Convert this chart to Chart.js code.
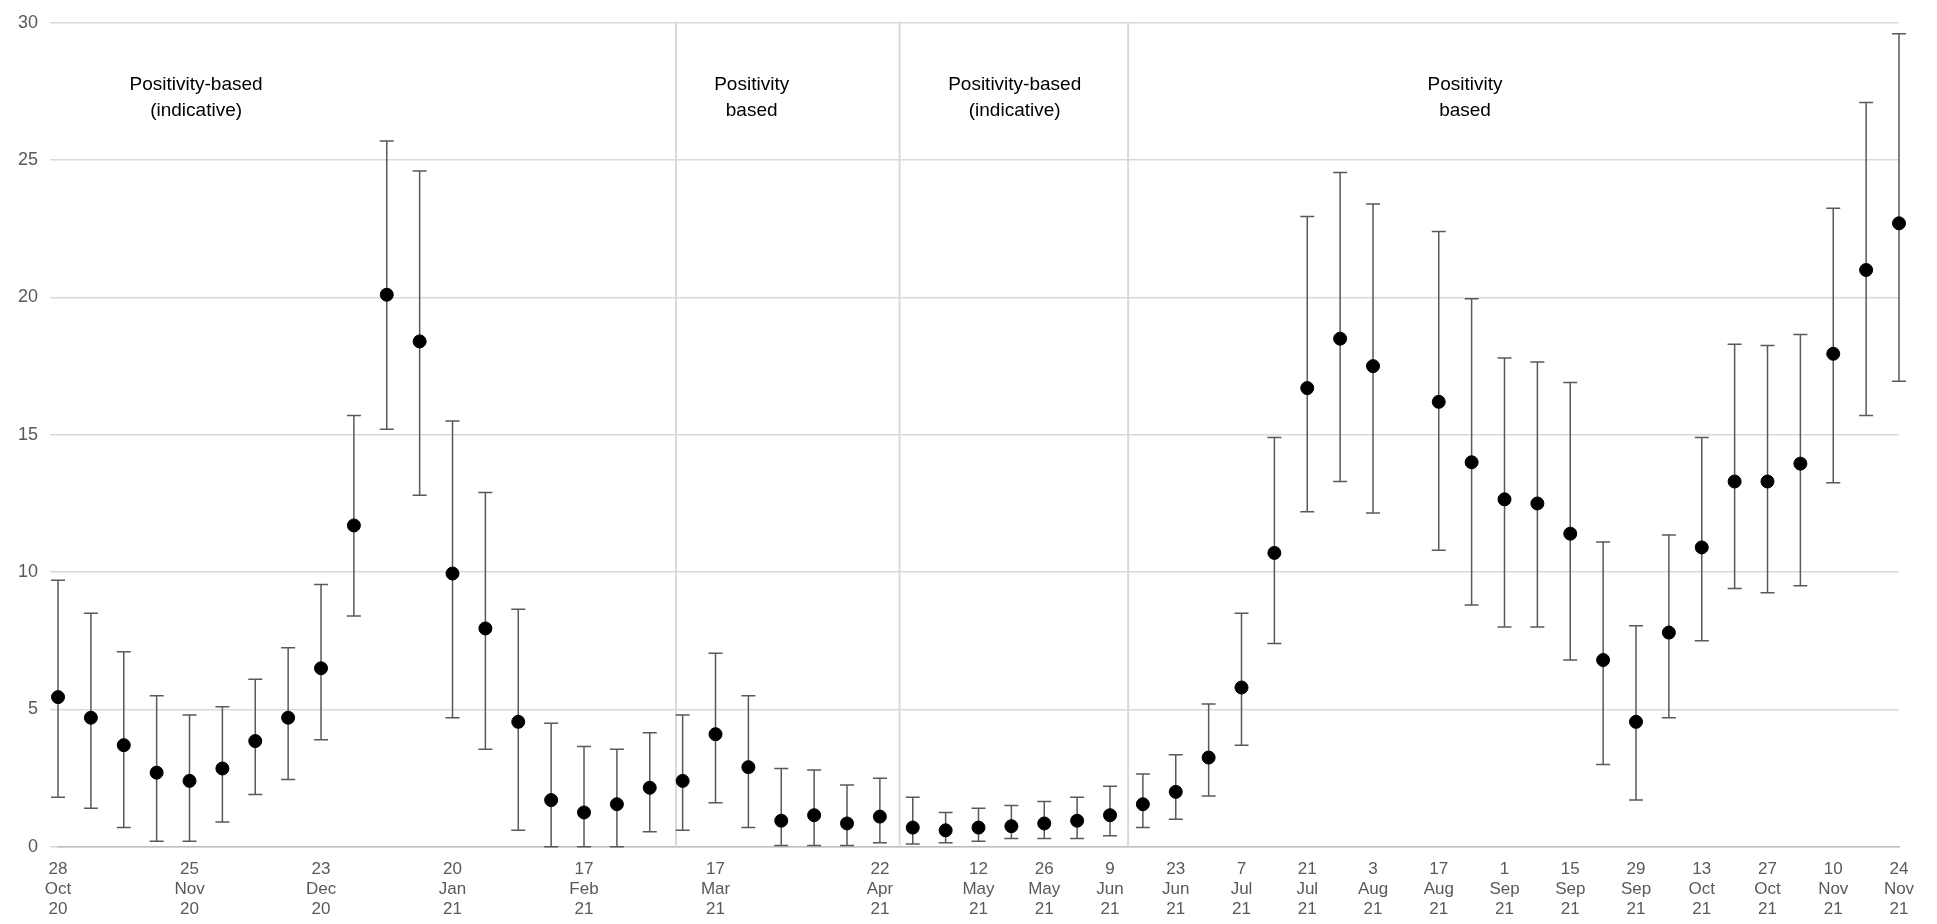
<!DOCTYPE html>
<html>
<head>
<meta charset="utf-8">
<script src="https://cdn.jsdelivr.net/npm/chart.js@4/dist/chart.umd.min.js"></script>
<style>
  html, body { margin: 0; padding: 0; background: #fff; }
  #wrap { width: 1937px; height: 924px; }
</style>
</head>
<body>
<div id="wrap"><canvas id="chart"></canvas></div>
<script>
// tick labels (empty = no label), one per weekly estimate
const tickLabels = [
  '28 Oct 20','','','','25 Nov 20','','','','23 Dec 20','','','','20 Jan 21','','','','17 Feb 21','','','',
  '17 Mar 21','','','','','22 Apr 21','','','12 May 21','','26 May 21','','9 Jun 21','','23 Jun 21','',
  '7 Jul 21','','21 Jul 21','','3 Aug 21','','17 Aug 21','','1 Sep 21','','15 Sep 21','','29 Sep 21','',
  '13 Oct 21','','27 Oct 21','','10 Nov 21','','24 Nov 21'
];
const estimate = [
  5.45,4.7,3.7,2.7,2.4,2.85,3.85,4.7,6.5,11.7,20.1,18.4,9.95,7.95,4.55,1.7,1.25,1.55,2.15,2.4,
  4.1,2.9,0.95,1.15,0.85,1.1,0.7,0.6,0.7,0.75,0.85,0.95,1.15,1.55,2.0,3.25,5.8,10.7,16.7,18.5,
  17.5,null,16.2,14.0,12.65,12.5,11.4,6.8,4.55,7.8,10.9,13.3,13.3,13.95,17.95,21.0,22.7
];
const lower = [
  1.8,1.4,0.7,0.2,0.2,0.9,1.9,2.45,3.9,8.4,15.2,12.8,4.7,3.55,0.6,0,0,0,0.55,0.6,
  1.6,0.7,0.05,0.05,0.05,0.15,0.1,0.15,0.2,0.3,0.3,0.3,0.4,0.7,1.0,1.85,3.7,7.4,12.2,13.3,
  12.15,null,10.8,8.8,8.0,8.0,6.8,3.0,1.7,4.7,7.5,9.4,9.25,9.5,13.25,15.7,16.95
];
const upper = [
  9.7,8.5,7.1,5.5,4.8,5.1,6.1,7.25,9.55,15.7,25.7,24.6,15.5,12.9,8.65,4.5,3.65,3.55,4.15,4.8,
  7.05,5.5,2.85,2.8,2.25,2.5,1.8,1.25,1.4,1.5,1.65,1.8,2.2,2.65,3.35,5.2,8.5,14.9,22.95,24.55,
  23.4,null,22.4,19.95,17.8,17.65,16.9,11.1,8.05,11.35,14.9,18.3,18.25,18.65,23.25,27.1,29.6
];
// method periods: divider positions (in category units) and captions
const dividers = [18.8, 25.6, 32.55];
const periodText = [
  { x: 4.2, lines: ['Positivity-based', '(indicative)'] },
  { x: 21.1, lines: ['Positivity', 'based'] },
  { x: 29.1, lines: ['Positivity-based', '(indicative)'] },
  { x: 42.8, lines: ['Positivity', 'based'] }
];

const errorBars = {
  id: 'errorBars',
  beforeDatasetsDraw(chart) {
    const { ctx, scales: { x, y }, chartArea } = chart;
    ctx.save();
    // period dividers
    ctx.strokeStyle = '#d9d9d9';
    ctx.lineWidth = 2;
    dividers.forEach(d => {
      const px = x.getPixelForValue(d);
      ctx.beginPath();
      ctx.moveTo(px, chartArea.top);
      ctx.lineTo(px, chartArea.bottom);
      ctx.stroke();
    });
    // whiskers
    ctx.strokeStyle = '#595959';
    ctx.lineWidth = 1.5;
    estimate.forEach((v, i) => {
      if (v === null) return;
      const px = x.getPixelForValue(i);
      const lo = y.getPixelForValue(lower[i]);
      const hi = y.getPixelForValue(upper[i]);
      ctx.beginPath();
      ctx.moveTo(px, lo); ctx.lineTo(px, hi);
      ctx.moveTo(px - 7, lo); ctx.lineTo(px + 7, lo);
      ctx.moveTo(px - 7, hi); ctx.lineTo(px + 7, hi);
      ctx.stroke();
    });
    // captions
    ctx.fillStyle = '#000';
    ctx.font = '19px "Liberation Sans", Arial, sans-serif';
    ctx.textAlign = 'center';
    ctx.textBaseline = 'middle';
    periodText.forEach(t => {
      const px = x.getPixelForValue(t.x);
      t.lines.forEach((l, k) => ctx.fillText(l, px, y.getPixelForValue(27.75) + k * 26));
    });
    ctx.restore();
  }
};

new Chart(document.getElementById('chart'), {
  type: 'line',
  data: {
    labels: tickLabels,
    datasets: [{
      data: estimate,
      showLine: false,
      pointRadius: 6.5,
      pointBackgroundColor: '#000',
      pointBorderColor: '#000'
    }]
  },
  options: {
    responsive: true,
    maintainAspectRatio: false,
    animation: false,
    layout: { padding: { left: 6, right: 38, top: 0, bottom: 0 } },
    plugins: { legend: { display: false }, tooltip: { enabled: false } },
    scales: {
      x: {
        offset: false,
        grid: { display: false },
        border: { color: '#bfbfbf', width: 1.5 },
        ticks: {
          autoSkip: false,
          maxRotation: 0,
          color: '#595959',
          font: { family: 'Liberation Sans', size: 17 },
          padding: 4,
          callback: (v, i) => tickLabels[i] ? tickLabels[i].split(' ') : ''
        }
      },
      y: {
        min: 0, max: 30,
        grid: { color: '#d9d9d9', lineWidth: 1.5 },
        border: { display: false },
        ticks: {
          stepSize: 5,
          color: '#595959',
          font: { family: 'Liberation Sans', size: 18 },
          padding: 12
        }
      }
    }
  },
  plugins: [errorBars]
});
</script>
</body>
</html>
